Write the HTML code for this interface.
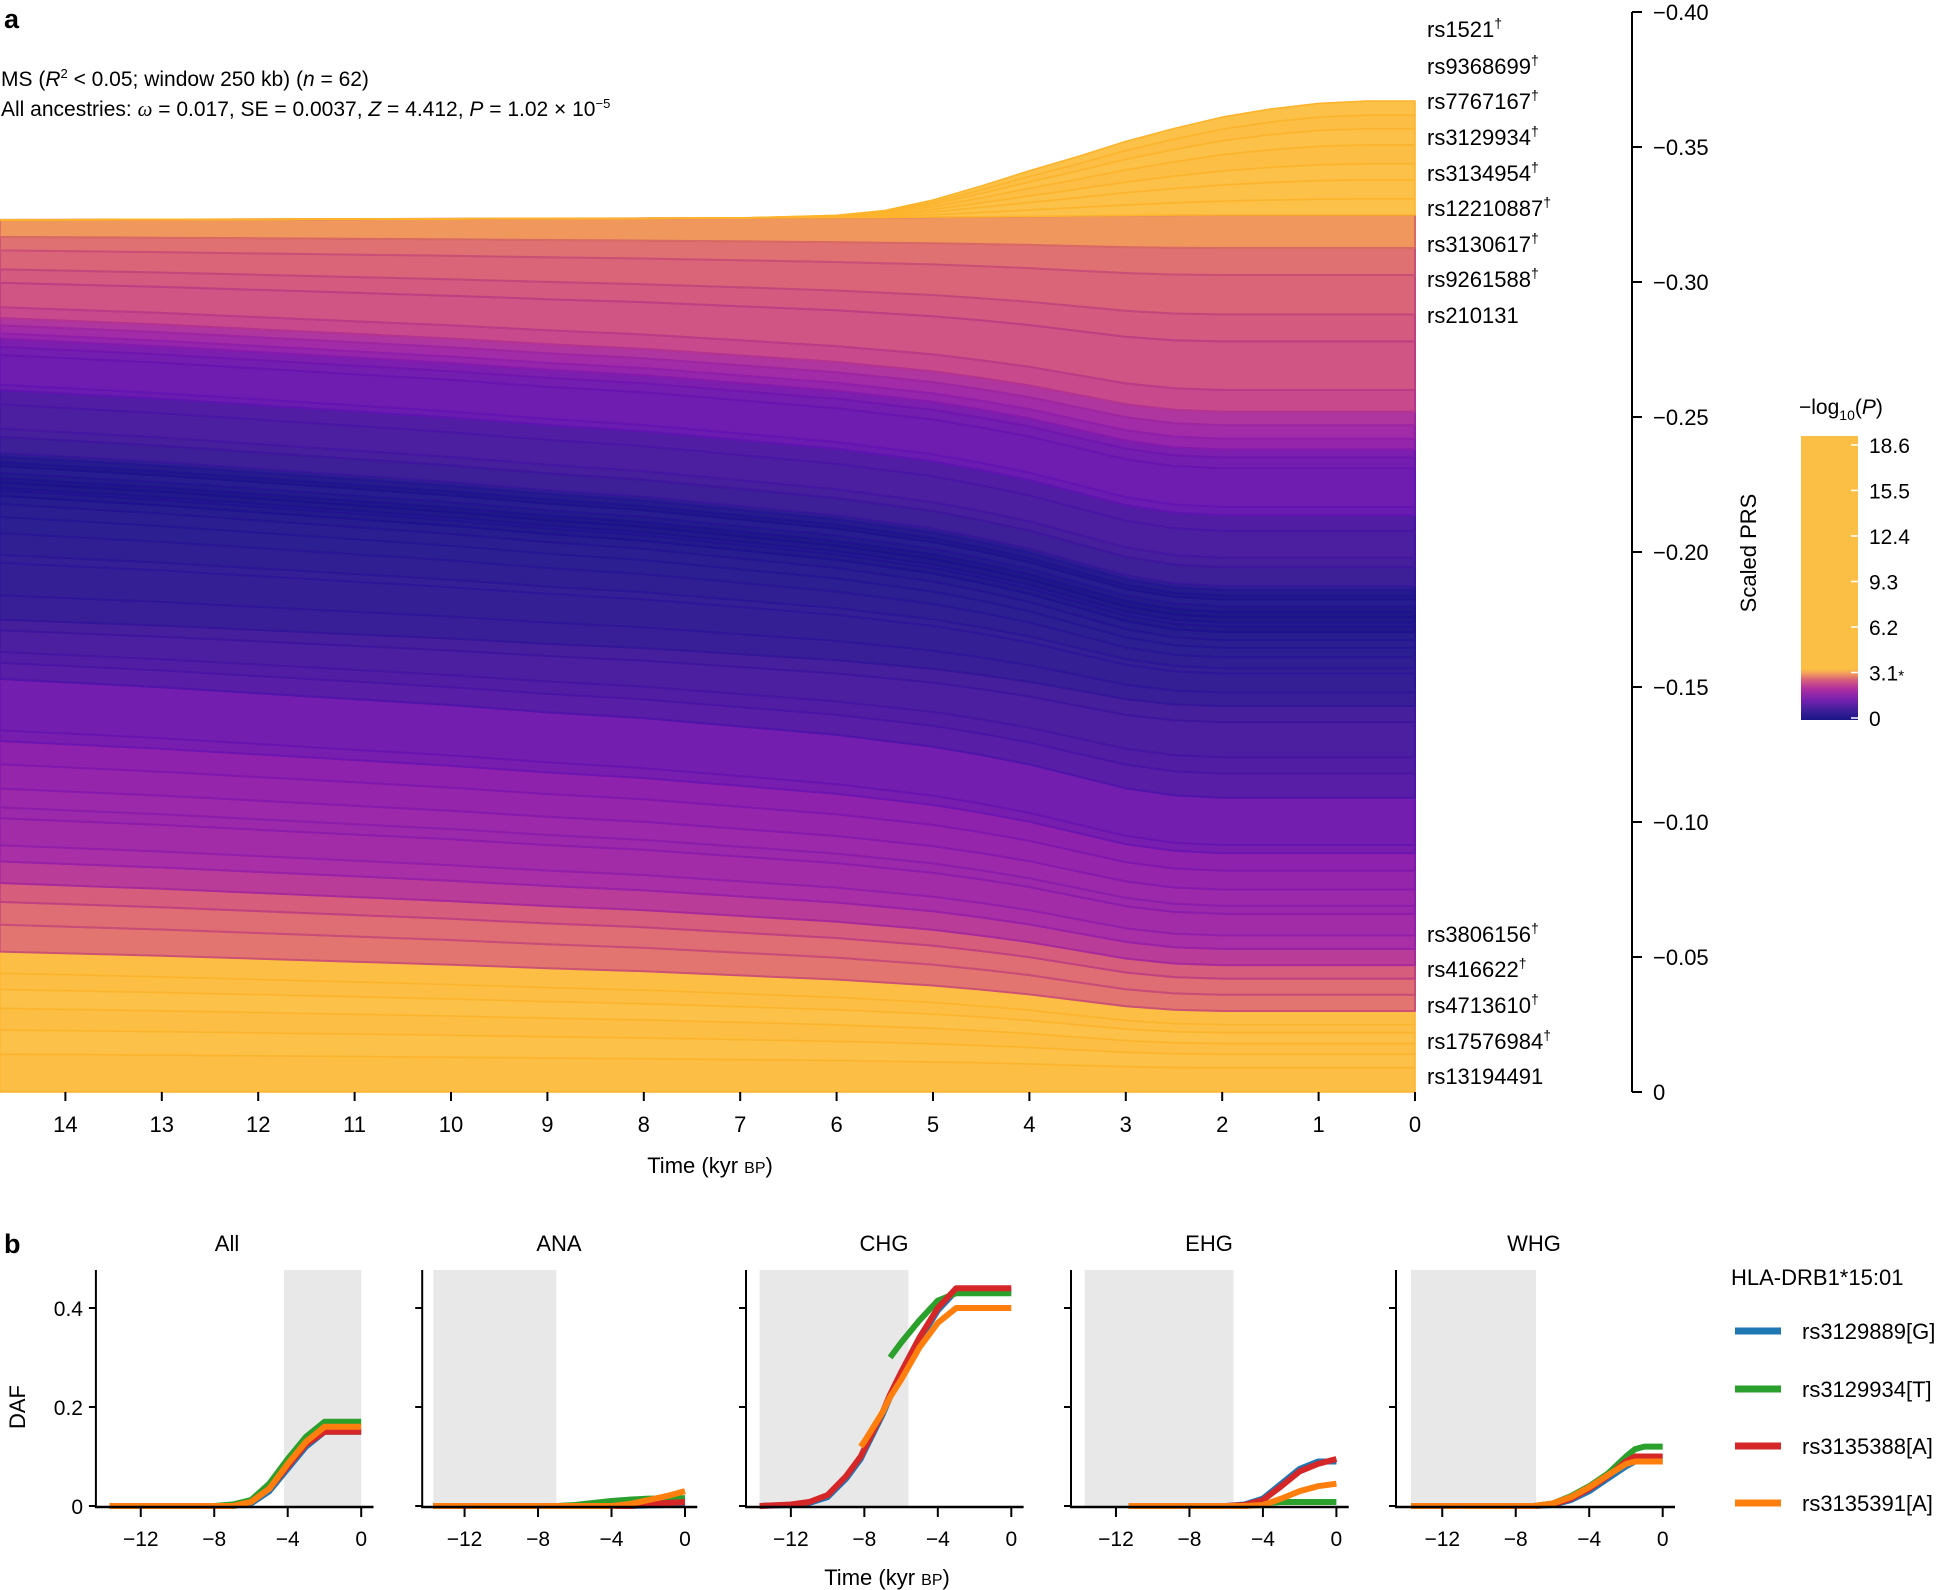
<!DOCTYPE html>
<html><head><meta charset="utf-8"><style>
html,body{margin:0;padding:0;background:#fff;}
svg{display:block;font-family:"Liberation Sans",Arial,sans-serif;}
</style></head><body>
<svg id="fig" width="1953" height="1590" viewBox="0 0 1953 1590" xmlns="http://www.w3.org/2000/svg">
<defs>
<linearGradient id="cbar" x1="0" y1="1" x2="0" y2="0">
<stop offset="0" stop-color="#1a1585"/><stop offset="0.03" stop-color="#3a1f98"/>
<stop offset="0.07" stop-color="#7520b0"/><stop offset="0.11" stop-color="#b030a0"/>
<stop offset="0.14" stop-color="#d65d7c"/><stop offset="0.165" stop-color="#f3a05a"/>
<stop offset="0.18" stop-color="#fcbf45"/><stop offset="1" stop-color="#fcbf45"/>
</linearGradient>
</defs>
<g id="panelA"></g>
<g id="panelB"></g>
</svg>
<script>
// ---------- Panel a data ----------
const knotTimes = [14.68, 13, 12, 11, 10, 9, 8, 7, 6, 5.5, 5, 4.5, 4, 3.5, 3, 2.5, 2, 1.5, 1, 0.5, 0];
const profDown = [0, 0.07, 0.12, 0.17, 0.22, 0.28, 0.33, 0.4, 0.47, 0.52, 0.57, 0.64, 0.72, 0.82, 0.92, 0.98, 1, 1, 1, 1, 1];
const profUp = [0, 0, 0, 0, 0, 0, 0, 0, 0.02, 0.06, 0.15, 0.27, 0.4, 0.52, 0.65, 0.76, 0.86, 0.93, 0.98, 1, 1];
const bandP = [12,8,15,6,9,18.6, 2.8,2.7,2.5, 2.0,1.8,1.7,1.6,1.6,1.5,1.4, 1.15,1.1, 0.85,0.8,0.75,0.7,
 0.55,0.5,0.5,0.45,0.4,0.35, 0.3,0.2,0.25,0.15,0.1,0.2,0.3,0.15,0.25,0.35, 0.6,0.7,0.75,0.8,
 1.0,1.05,1.1,1.2, 1.5,1.7,1.9, 2.2,2.35,2.45,2.6,2.75, 3.0, 5,7,4,9,6,10,3.5];
const bandW0 = [.014,.009,.008,.007,.006,.008, .010,.0084,.007, .008,.006,.010,.004,.007,.009,.0086, .004,.019, .006,.004,.008,.004,
 .009,.012,.003,.008,.006,.0048, .003,.002,.001,.002,.0015,.002,.0025,.0015,.002,.0014, .006,.003,.009,.0053,
 .002,.011,.003,.003, .002,.003,.0027, .004,.009,.005,.007,.005, .0063, 0,0,0,0,0,0,0];
const bandW1 = [.009,.005,.004,.004,.003,.005, .006,.006,.005, .006,.005,.008,.003,.006,.007,.0065, .003,.0175, .009,.006,.013,.006,
 .005,.007,.002,.004,.0035,.0029, .003,.002,.0015,.002,.002,.002,.0025,.0015,.002,.0015, .007,.0035,.01,.0058,
 .003,.0143,.004,.003, .004,.005,.005, .008,.018,.01,.0146,.01, .0122, .006,.007,.006,.007,.006,.005,.0052];
const bandGrow = [0,0,0,0,0,0, 0,0,0, 0,0,0,0,0,0,0, 0,0, 0,0,0,0, 0,0,0,0,0,0, 0,0,0,0,0,0,0,0,0,0, 0,0,0,0,
 0,0,0,0, 0,0,0, 0,0,0,0,0, 0, 1,1,1,1,1,1,1];
const prsTicks = [0, 0.05, 0.10, 0.15, 0.20, 0.25, 0.30, 0.35, 0.40];
const prsTickLabels = ['0','\u22120.05','\u22120.10','\u22120.15','\u22120.20','\u22120.25','\u22120.30','\u22120.35','\u22120.40'];
const timeTicks = [14,13,12,11,10,9,8,7,6,5,4,3,2,1,0];
const topLabels = ['rs1521','rs9368699','rs7767167','rs3129934','rs3134954','rs12210887','rs3130617','rs9261588','rs210131'];
const topDagger = [1,1,1,1,1,1,1,1,0];
const botLabels = ['rs3806156','rs416622','rs4713610','rs17576984','rs13194491'];
const botDagger = [1,1,1,1,0];
const cbTicks = [0, 3.1, 6.2, 9.3, 12.4, 15.5, 18.6];

// ---------- Panel b data ----------
const popNames = ['All','ANA','CHG','EHG','WHG'];
const snpNames = ['rs3129889[G]','rs3129934[T]','rs3135388[A]','rs3135391[A]'];
const shadeStart = [-4.2, -13.7, -13.7, -13.7, -13.7];
const shadeEnd = [0, -7.0, -5.6, -5.6, -6.9];
const tAll = [-13.7,-12,-10,-8,-7,-6,-5,-4,-3,-2,-1,0];
const allBlue = [0,0,0,0,0,0.005,0.03,0.075,0.12,0.15,0.15,0.15];
const allGreen = [0,0,0,0,0.003,0.012,0.045,0.095,0.14,0.17,0.17,0.17];
const allRed = [0,0,0,0,0,0.008,0.035,0.08,0.125,0.15,0.15,0.15];
const allOrange = [0,0,0,0,0,0.008,0.035,0.085,0.13,0.16,0.16,0.16];
const tANA = [-13.7,-12,-10,-8,-7,-6,-5,-4,-3,-2,-1,0];
const anaBlue = [0,0,0,0,0,0,0,0,0,0.001,0.002,0.003];
const anaGreen = [0,0,0,0,0,0.002,0.006,0.01,0.013,0.015,0.015,0.016];
const anaRed = [0,0,0,0,0,0,0,0,0,0.004,0.006,0.008];
const anaOrange = [0,0,0,0,0,0,0,0,0.004,0.012,0.02,0.03];
const tCHG = [-13.7,-12,-11,-10,-9,-8.2,-8,-7,-6.6,-6,-5,-4,-3,-2,-1,0];
const chgBlue = [0,0.002,0.006,0.018,0.055,0.095,0.11,0.185,0.22,0.265,0.335,0.395,0.435,0.435,0.435,0.435];
const chgGreen = [null,null,null,null,null,null,null,null,0.30,0.33,0.375,0.415,0.43,0.43,0.43,0.43];
const chgRed = [0,0.003,0.008,0.022,0.06,0.1,0.115,0.19,0.225,0.27,0.34,0.40,0.44,0.44,0.44,0.44];
const chgOrange = [null,null,null,null,null,0.12,0.13,0.19,0.22,0.255,0.32,0.37,0.40,0.40,0.40,0.40];
const tEHG = [-11.3,-10,-8,-6,-5,-4,-3,-2,-1,0];
const ehgBlue = [0,0,0,0,0.003,0.015,0.045,0.075,0.09,0.09];
const ehgGreen = [0,0,0,0,0,0.006,0.008,0.008,0.008,0.008];
const ehgRed = [0,0,0,0,0.002,0.012,0.04,0.07,0.085,0.095];
const ehgOrange = [0,0,0,0,0,0.002,0.015,0.03,0.04,0.045];
const tWHG = [-13.7,-12,-10,-8,-7,-6,-5,-4,-3,-2,-1.5,-1,0];
const whgBlue = [0,0,0,0,0,0.002,0.012,0.03,0.055,0.08,0.09,0.09,0.09];
const whgGreen = [0,0,0,0,0,0.005,0.02,0.04,0.065,0.1,0.115,0.12,0.12];
const whgRed = [0,0,0,0,0,0.003,0.015,0.035,0.06,0.09,0.1,0.1,0.1];
const whgOrange = [0,0,0,0,0,0.005,0.018,0.038,0.062,0.085,0.09,0.09,0.09];
const dafTicks = [0, 0.2, 0.4];
const dafTickLabels = ['0','0.2','0.4'];
const kyrTicks = [-12,-8,-4,0];

const NS = 'http://www.w3.org/2000/svg';
function mk(tag, attrs, parent, text){const e=document.createElementNS(NS,tag);for(const k in attrs)e.setAttribute(k,attrs[k]);if(text!==undefined)e.textContent=text;parent.appendChild(e);return e;}

const cStops=[[0,[26,21,133]],[0.4,[44,31,145]],[0.7,[69,31,156]],[1.0,[106,28,176]],[1.4,[142,34,172]],[1.8,[168,47,165]],[2.2,[201,74,140]],[2.5,[214,93,124]],[2.8,[226,117,112]],[3.05,[243,160,90]]];
function pColor(p){
  if(p>=3.1) return p>8 ? 'rgb(252,190,68)' : 'rgb(251,193,72)';
  for(let i=1;i<cStops.length;i++){ if(p<=cStops[i][0]){const a=cStops[i-1],b=cStops[i];const f=(p-a[0])/(b[0]-a[0]);
    return 'rgb('+a[1].map((v,j)=>Math.round(v+(b[1][j]-v)*f)).join(',')+')';}}
  return 'rgb(243,160,90)';
}
function edgeColor(c){const m=c.match(/\d+/g).map(Number);const r=m[0]*0.9,g=m[1]*0.7,b=Math.min(255,m[2]*0.95+10);return 'rgb('+[r,g,b].map(Math.round).join(',')+')';}

// ----- Panel a -----
const A = document.getElementById('panelA');
const xA = t => 1415 - t*96.4;
const yA = v => 1092 - v*2700;
const bandsG = mk('g',{},A);


let cum = knotTimes.map(()=>0);
for(let b=0;b<bandP.length;b++){
  const prof = bandGrow[b] ? profUp : profDown;
  const lower = cum.slice();
  const upper = knotTimes.map((t,i)=> lower[i] + bandW0[b] + (bandW1[b]-bandW0[b])*prof[i]);
  let d='M'+knotTimes.map((t,i)=>xA(t).toFixed(1)+','+yA(upper[i]).toFixed(1)).join(' L');
  for(let i=knotTimes.length-1;i>=0;i--) d+=' L'+xA(knotTimes[i]).toFixed(1)+','+yA(lower[i]).toFixed(1);
  d+=' Z';
  const col=pColor(bandP[b]);
  const hi = bandP[b]>=3.1;
  const p=mk('path',{d:d,fill:col,stroke:hi?'rgb(253,180,45)':edgeColor(col),'stroke-width':hi?1.6:2,'stroke-linejoin':'round'},bandsG);
  
  
  cum = upper;
}
timeTicks.forEach(t=>{
  const l=mk('line',{x1:xA(t),x2:xA(t),y1:1092,y2:1101,stroke:'#000','stroke-width':2},A);
  
  
  const tx=mk('text',{x:xA(t),y:1132,'font-size':22,'text-anchor':'middle'},A,String(t));
  
  
});
const xt=mk('text',{x:710,y:1173,'font-size':22,'text-anchor':'middle'},A);
xt.innerHTML='Time (kyr <tspan font-size="16">BP</tspan>)';


const ra=mk('line',{x1:1632,x2:1632,y1:yA(0.4),y2:yA(0),stroke:'#000','stroke-width':2},A);


prsTicks.forEach((v,i)=>{
  const l=mk('line',{x1:1632,x2:1642,y1:yA(v),y2:yA(v),stroke:'#000','stroke-width':2},A);
  
  
  const t=mk('text',{x:1653,y:yA(v)+8,'font-size':22},A,prsTickLabels[i]);
  
  
});
const yt=mk('text',{x:0,y:0,'font-size':22,'text-anchor':'middle',transform:'translate(1756,553) rotate(-90)'},A,'Scaled PRS');


const topY=[29,66,101,137,173,208,244,279,315];
topLabels.forEach((s,i)=>{
  const t=mk('text',{x:1427,y:topY[i]+8,'font-size':22},A);
  t.innerHTML=s+(topDagger[i]?'<tspan font-size="14" dy="-9">\u2020</tspan>':'');
  
  
});
const botY=[934,969,1005,1041,1076];
botLabels.forEach((s,i)=>{
  const t=mk('text',{x:1427,y:botY[i]+8,'font-size':22},A);
  t.innerHTML=s+(botDagger[i]?'<tspan font-size="14" dy="-9">\u2020</tspan>':'');
  
  
});
const la=mk('text',{x:4,y:28,'font-size':27,'font-weight':'bold'},A,'a');


const h1=mk('text',{x:1,y:86,'font-size':21},A);
h1.innerHTML='MS (<tspan font-style="italic">R</tspan><tspan font-size="13" dy="-8">2</tspan><tspan dy="8"> &lt; 0.05; window 250 kb) (</tspan><tspan font-style="italic">n</tspan> = 62)';


const h2=mk('text',{x:1,y:116,'font-size':21},A);
h2.innerHTML='All ancestries: <tspan font-style="italic" font-family="Liberation Serif">\u03c9</tspan> = 0.017, SE = 0.0037, <tspan font-style="italic">Z</tspan> = 4.412, <tspan font-style="italic">P</tspan> = 1.02 \u00d7 10<tspan font-size="13" dy="-8">\u22125</tspan>';


const cbY = p => 718 - p*14.68;
const cb=mk('rect',{x:1801,y:cbY(18.6)-9,width:57,height:cbY(0)-cbY(18.6)+11,fill:'url(#cbar)'},A);


cbTicks.forEach(p=>{
  const l=mk('line',{x1:1851,x2:1858,y1:cbY(p),y2:cbY(p),stroke:'#fff','stroke-width':1.5},A);
  
  
  const t=mk('text',{x:1869,y:cbY(p)+8,'font-size':21},A);
  t.innerHTML=(p===0?'0':p.toFixed(1))+(p===3.1?'<tspan font-size="15">*</tspan>':'');
  
  
});
const cbt=mk('text',{x:1799,y:414,'font-size':21},A);
cbt.innerHTML='\u2212log<tspan font-size="14" dy="6">10</tspan><tspan dy="-6">(</tspan><tspan font-style="italic">P</tspan>)';



// ----- Panel b -----
const B=document.getElementById('panelB');
const spineX=[95.9,422.2,746,1071,1396];
const zeroX=[361.2,685,1011.3,1336.4,1662.7];
const titleX=[227,559,884,1209,1534];
const kx=18.37;
const yB = d => 1506 - d*495;
const colors=['#1f77b4','#2ca02c','#d62728','#ff7f0e'];
const panelT=[tAll,tANA,tCHG,tEHG,tWHG];
const panelS=[[allBlue,allGreen,allRed,allOrange],[anaBlue,anaGreen,anaRed,anaOrange],[chgBlue,chgGreen,chgRed,chgOrange],[ehgBlue,ehgGreen,ehgRed,ehgOrange],[whgBlue,whgGreen,whgRed,whgOrange]];
const lb=mk('text',{x:4,y:1253,'font-size':27,'font-weight':'bold'},B,'b');


popNames.forEach((pop,k)=>{
  const g=mk('g',{},B);
  
  
  const xB = t => zeroX[k] + t*kx;
  const sh=mk('rect',{x:xB(shadeStart[k]),y:1270,width:xB(shadeEnd[k])-xB(shadeStart[k]),height:1506-1270,fill:'#e8e8e8'},g);
  
  
  const ttl=mk('text',{x:titleX[k],y:1251,'font-size':22,'text-anchor':'middle'},g,pop);
  
  
  panelS[k].forEach((vals,s)=>{
    let d='',pen=false;
    panelT[k].forEach((t,i)=>{ if(vals[i]===null){pen=false;return;} d+=(pen?' L':' M')+xB(t).toFixed(1)+','+yB(vals[i]).toFixed(1); pen=true; });
    const p=mk('path',{d:d,fill:'none',stroke:colors[s],'stroke-width':6,'stroke-linejoin':'round'},g);
    
    
  });
  const sp=mk('line',{x1:spineX[k],x2:spineX[k],y1:1270,y2:1508,stroke:'#000','stroke-width':2},g);
  
  
  const bx=mk('line',{x1:spineX[k]-1,x2:xB(0.67),y1:1507,y2:1507,stroke:'#000','stroke-width':2.5},g);
  
  
  dafTicks.forEach((v,i)=>{
    const l=mk('line',{x1:spineX[k]-7,x2:spineX[k],y1:yB(v),y2:yB(v),stroke:'#000','stroke-width':2},g);
    
    
    if(k===0){const t=mk('text',{x:83,y:yB(v)+8,'font-size':21,'text-anchor':'end'},g,dafTickLabels[i]);
      
      }
  });
  kyrTicks.forEach(t=>{
    const l=mk('line',{x1:xB(t),x2:xB(t),y1:1507,y2:1517,stroke:'#000','stroke-width':2},g);
    
    
    const tx=mk('text',{x:xB(t),y:1546,'font-size':21,'text-anchor':'middle'},g,(t<0?'\u2212'+(-t):String(t)));
    
    
  });
});
const dy=mk('text',{x:0,y:0,'font-size':22,'text-anchor':'middle',transform:'translate(25,1407) rotate(-90)'},B,'DAF');


const bt=mk('text',{x:887,y:1585,'font-size':22,'text-anchor':'middle'},B);
bt.innerHTML='Time (kyr <tspan font-size="16">BP</tspan>)';


const lt=mk('text',{x:1731,y:1285,'font-size':22},B,'HLA-DRB1*15:01');


const legY=[1331,1389,1446,1503];
snpNames.forEach((s,i)=>{
  const l=mk('line',{x1:1735,x2:1781,y1:legY[i],y2:legY[i],stroke:colors[i],'stroke-width':7},B);
  
  
  const t=mk('text',{x:1802,y:legY[i]+8,'font-size':22},B,s);
  
  
});
</script>
</body></html>
